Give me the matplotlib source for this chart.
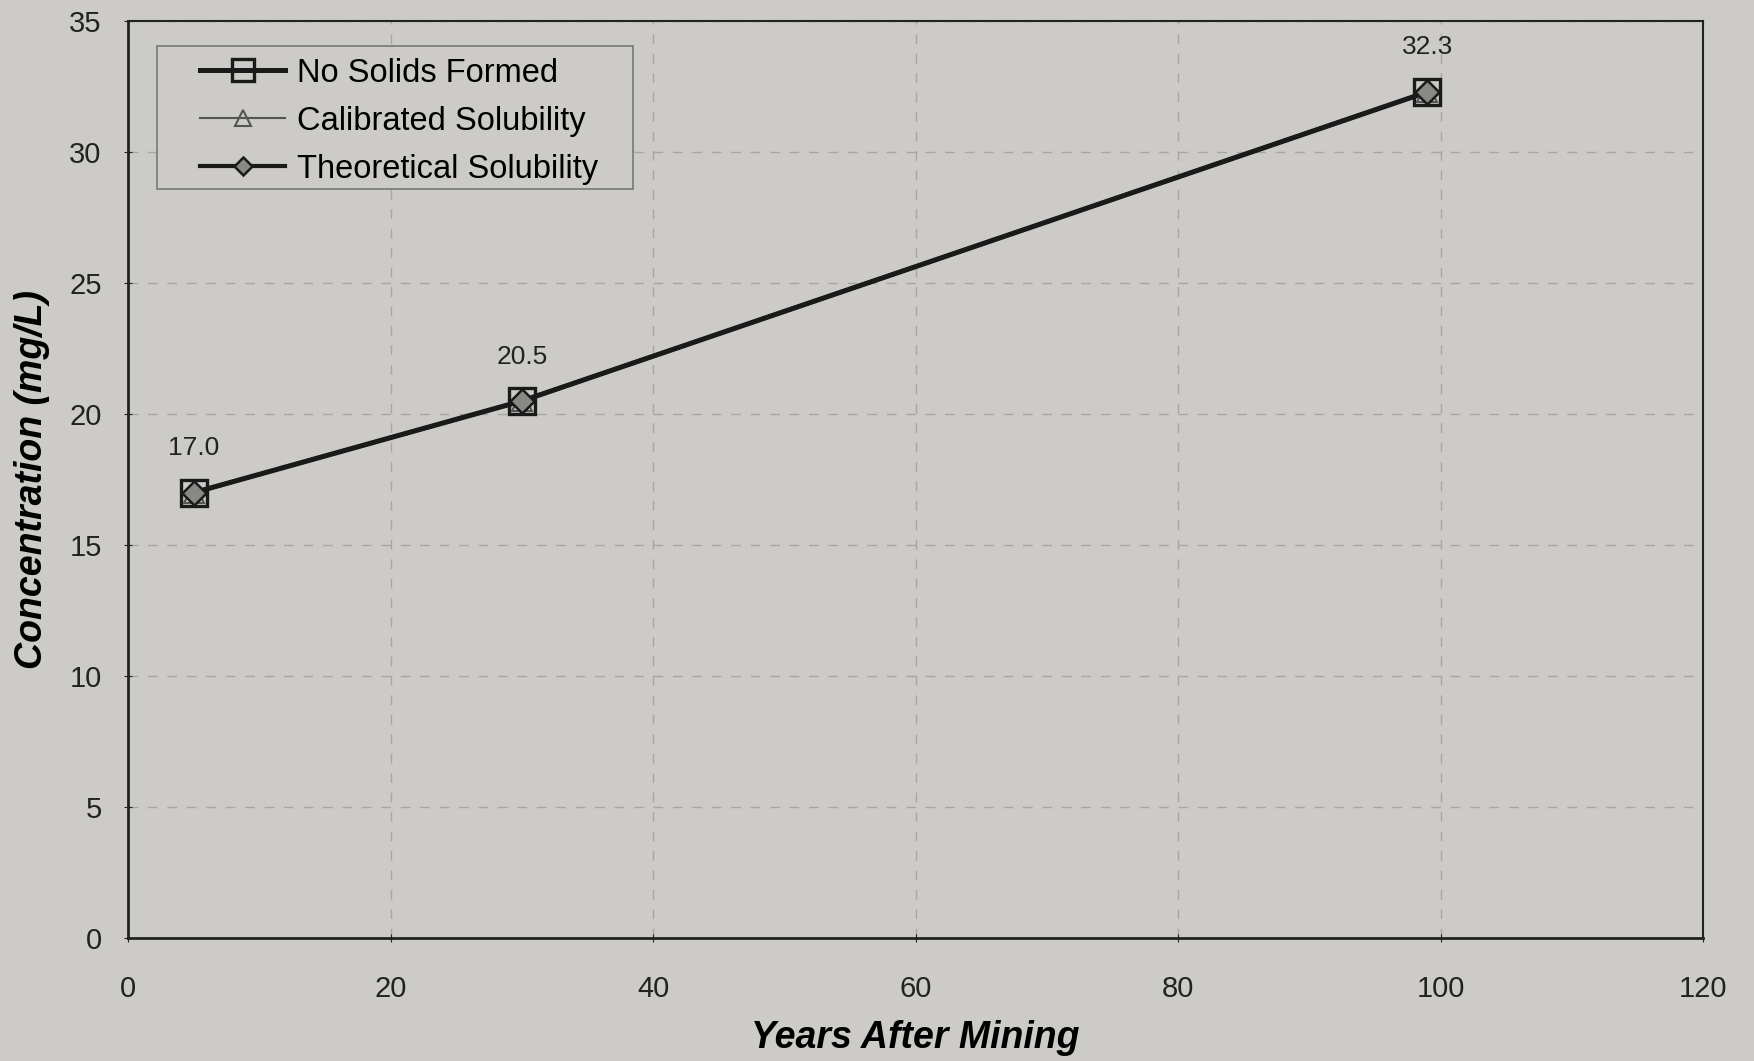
import matplotlib.pyplot as plt
from matplotlib.patches import Rectangle

years = [5, 30, 99]
no_solids = [17.0, 20.5, 32.3]
calibrated = [17.0, 20.5, 32.3]
theoretical = [17.0, 20.5, 32.3]
labels = ["17.0", "20.5", "32.3"]

bg = '#cdcbc7'
plt.rcParams['font.family'] = ['Liberation Sans', 'DejaVu Sans']

fig = plt.figure(figsize=(17.54, 10.61), dpi=100, facecolor=bg)
ax = fig.add_axes([0.073, 0.116, 0.898, 0.864])
ax.set_facecolor(bg)

ax.plot(years, no_solids, color='#1a1a1a', lw=3.6, marker='s', ms=19,
        mfc='none', mec='#1a1a1a', mew=2.4, label='No Solids Formed', zorder=3)
ax.plot(years, calibrated, color='#555555', lw=1.5, marker='^', ms=14,
        mfc='none', mec='#555555', mew=1.5, label='Calibrated Solubility', zorder=4)
ax.plot(years, theoretical, color='#1a1a1a', lw=3, marker='D', ms=12,
        mfc='#8a8884', mec='#1a1a1a', mew=1.8, label='Theoretical Solubility', zorder=5)

for x, y, t in zip(years, no_solids, labels):
    ax.annotate(t, (x, y), xytext=(0, 32), textcoords='offset points',
                ha='center', va='center', fontsize=19, color='#222222')

ax.set_xlim(0, 120)
ax.set_ylim(0, 35)
ax.set_xticks(range(0, 121, 20))
ax.set_yticks(range(0, 36, 5))
ax.tick_params(labelsize=21, colors='#222222', length=6, direction='inout')
ax.tick_params(axis='x', pad=24)
ax.tick_params(axis='y', pad=16)
ax.grid(True, ls=(0, (7, 7)), color='#a8a6a2', lw=1)
for s in ax.spines.values():
    s.set_color('#222222')
    s.set_linewidth(1.5)
ax.spines['left'].set_linewidth(2)
ax.spines['bottom'].set_linewidth(2)

ax.set_xlabel('Years After Mining', fontsize=27, fontweight='bold', style='italic', labelpad=12)
ax.set_ylabel('Concentration (mg/L)', fontsize=27, fontweight='bold', style='italic', labelpad=14)

leg = ax.legend(loc='upper left', bbox_to_anchor=(0.046, 0.960), borderaxespad=0,
                fontsize=23.5, frameon=False, handlelength=2.6,
                handletextpad=0.35, borderpad=0, labelspacing=0.52, markerscale=0.8)
leg.set_zorder(6)

# legend frame with wider side padding than top/bottom
fig.canvas.draw()
bb = leg.get_window_extent(fig.canvas.get_renderer())
inv = fig.transFigure.inverted()
(x0, y0), (x1, y1) = inv.transform([[bb.x0 - 43, bb.y0 - 4], [bb.x1 + 35, bb.y1 + 12]])
ax.add_patch(Rectangle((x0, y0), x1 - x0, y1 - y0, transform=fig.transFigure,
                       facecolor=bg, edgecolor='#777777', lw=1.2, zorder=5.5, clip_on=False))

fig.savefig('out.png', dpi=100, facecolor=bg)
